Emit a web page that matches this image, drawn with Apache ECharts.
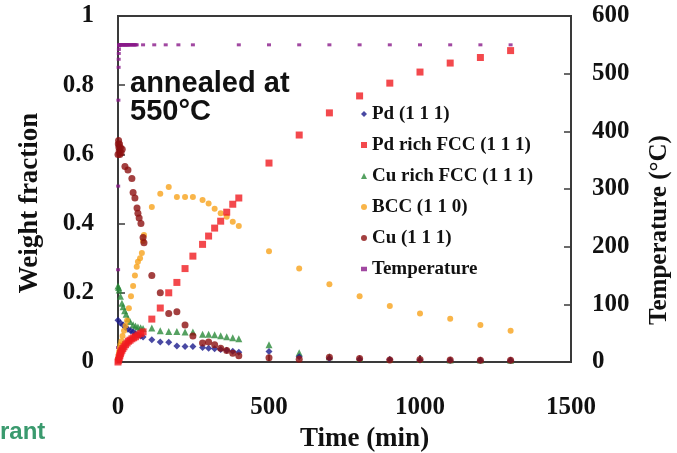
<!DOCTYPE html>
<html>
<head>
<meta charset="utf-8">
<script src="https://cdn.jsdelivr.net/npm/echarts@6/dist/echarts.min.js"></script>
<style>
  html, body { margin: 0; padding: 0; background: #ffffff; }
  #chart { width: 677px; height: 453px; }
</style>
</head>
<body>
<div id="chart"></div>
<script>
// Phase weight fractions during annealing at 550 °C, [time (min), weight fraction]
const pd111 = [
  [0, 0.121], [8, 0.113], [17, 0.107], [25, 0.100], [33, 0.095], [42, 0.090], [50, 0.087],
  [58, 0.082], [66, 0.078], [75, 0.075], [83, 0.072], [112, 0.064], [140, 0.058], [168, 0.057],
  [195, 0.046], [222, 0.045], [248, 0.045], [280, 0.042], [300, 0.040], [320, 0.038], [340, 0.036],
  [360, 0.034], [380, 0.031], [400, 0.028], [500, 0.030], [600, 0.015], [700, 0.010], [800, 0.008],
  [900, 0.007], [1000, 0.006], [1100, 0.005], [1200, 0.005], [1300, 0.005]
];
const pdRichFcc = [
  [0, 0.000], [2, 0.005], [4, 0.012], [6, 0.018], [8, 0.024], [10, 0.029], [13, 0.034], [16, 0.039],
  [20, 0.044], [25, 0.050], [30, 0.055], [35, 0.060], [40, 0.063], [46, 0.067], [52, 0.070],
  [58, 0.073], [66, 0.078], [75, 0.082], [83, 0.087], [112, 0.124], [140, 0.156], [168, 0.200],
  [195, 0.230], [222, 0.270], [248, 0.306], [280, 0.340], [300, 0.364], [320, 0.387], [340, 0.407],
  [360, 0.433], [380, 0.456], [400, 0.474], [500, 0.575], [600, 0.656], [700, 0.720], [800, 0.769],
  [900, 0.806], [1000, 0.838], [1100, 0.864], [1200, 0.880], [1300, 0.900]
];
const cuRichFcc = [
  [0, 0.220], [2, 0.215], [4, 0.208], [8, 0.190], [13, 0.170], [17, 0.160], [22, 0.148], [27, 0.138],
  [33, 0.125], [40, 0.117], [50, 0.108], [58, 0.104], [66, 0.101], [75, 0.099], [83, 0.097],
  [112, 0.098], [140, 0.090], [168, 0.088], [195, 0.088], [222, 0.087], [248, 0.087], [280, 0.080],
  [300, 0.080], [320, 0.079], [340, 0.076], [360, 0.073], [380, 0.070], [400, 0.067], [500, 0.050],
  [600, 0.027], [700, 0.015], [800, 0.010], [900, 0.008], [1000, 0.007], [1100, 0.006],
  [1200, 0.006], [1300, 0.005]
];
const bcc110 = [
  [0, 0.010], [2, 0.020], [4, 0.030], [6, 0.040], [8, 0.050], [11, 0.060], [15, 0.075], [20, 0.090],
  [25, 0.105], [30, 0.120], [36, 0.155], [43, 0.190], [50, 0.220], [56, 0.250], [62, 0.275],
  [66, 0.290], [73, 0.300], [79, 0.315], [83, 0.350], [86, 0.367], [112, 0.448], [140, 0.486],
  [168, 0.506], [195, 0.477], [222, 0.477], [248, 0.477], [280, 0.468], [300, 0.458], [320, 0.443],
  [340, 0.430], [360, 0.420], [380, 0.405], [400, 0.393], [500, 0.320], [600, 0.270], [700, 0.225],
  [800, 0.190], [900, 0.162], [1000, 0.140], [1100, 0.125], [1200, 0.107], [1300, 0.090]
];
const cu111 = [
  [0, 0.600], [1, 0.630], [2, 0.640], [3, 0.620], [4, 0.610], [5, 0.630], [6, 0.600], [8, 0.620],
  [10, 0.605], [14, 0.615], [23, 0.565], [33, 0.555], [46, 0.530], [50, 0.490], [56, 0.474],
  [63, 0.445], [66, 0.430], [70, 0.416], [76, 0.400], [83, 0.360], [86, 0.345], [112, 0.250],
  [140, 0.200], [168, 0.140], [195, 0.145], [222, 0.107], [248, 0.075], [280, 0.055], [300, 0.058],
  [320, 0.050], [340, 0.040], [360, 0.033], [380, 0.025], [400, 0.018], [500, 0.012], [600, 0.008],
  [700, 0.014], [800, 0.010], [900, 0.006], [1000, 0.007], [1100, 0.006], [1200, 0.005], [1300, 0.005]
];
// Furnace temperature, [time (min), °C]
const temperature = [
  [0, 25], [0.3, 160], [0.6, 305], [1, 373], [1.3, 454], [2, 511], [2.3, 525], [2.6, 535], [3, 542],
  [3.5, 548], [4, 550], [5, 550], [7, 550], [9, 550], [11, 550], [13, 550], [15, 550], [17, 550],
  [19, 550], [21, 550], [23, 550], [25, 550], [27, 550], [29, 550], [31, 550], [33, 550], [35, 550],
  [38, 550], [41, 550], [44, 550], [47, 550], [50, 550], [53, 550], [56, 550], [59, 550], [62, 550],
  [83, 550], [120, 550], [158, 550], [200, 550], [248, 550], [400, 550], [500, 550], [600, 550],
  [700, 550], [800, 550], [900, 550], [1000, 550], [1100, 550], [1200, 550], [1300, 550]
];

const seriesNames = ['Pd (1 1 1)', 'Pd rich FCC (1 1 1)', 'Cu rich FCC (1 1 1)', 'BCC (1 1 0)', 'Cu (1 1 1)', 'Temperature'];
const seriesColors = ['#1c1c8c', '#f01c20', '#2a8a3a', '#f7a21c', '#8c1010', '#8a1a8a'];
const legendIcons = ['diamond', 'rect', 'triangle', 'circle', 'circle', 'path://M0,0H4V3H0Z'];

const serif = 'Liberation Serif';
const axisColor = '#3a3a3a';

const chart = echarts.init(document.getElementById('chart'), null, { renderer: 'canvas' });

const axisCommon = {
  axisLine: { show: true, lineStyle: { color: axisColor, width: 2 } },
  axisTick: { show: true, inside: true, length: 7, lineStyle: { color: axisColor, width: 1.5 } },
  splitLine: { show: false },
  axisLabel: { fontFamily: serif, fontWeight: 'bold', fontSize: 25, color: '#111', formatter: v => String(v) },
  nameTextStyle: { fontFamily: serif, fontWeight: 'bold', fontSize: 27, color: '#111' }
};

chart.setOption({
  animation: false,
  backgroundColor: '#ffffff',
  grid: {
    left: 118, right: 106, top: 16, bottom: 91,
    outerBoundsMode: 'none', containLabel: false,
    show: true, borderColor: axisColor, borderWidth: 2, backgroundColor: 'transparent'
  },
  xAxis: Object.assign({}, axisCommon, {
    type: 'value', min: 0, max: 1500, interval: 500,
    name: 'Time (min)', nameLocation: 'middle', nameGap: 64,
    nameTextStyle: Object.assign({}, axisCommon.nameTextStyle, { padding: [0, 0, 0, 40] }),
    axisLabel: Object.assign({}, axisCommon.axisLabel, { margin: 33 })
  }),
  yAxis: [
    Object.assign({}, axisCommon, {
      type: 'value', min: 0, max: 1, interval: 0.2, position: 'left',
      name: 'Weight fraction', nameLocation: 'middle', nameGap: 74, nameRotate: 90,
      nameTextStyle: Object.assign({}, axisCommon.nameTextStyle, { padding: [0, 28, 0, 0] }),
      axisLabel: Object.assign({}, axisCommon.axisLabel, { margin: 24 })
    }),
    Object.assign({}, axisCommon, {
      type: 'value', min: 0, max: 600, interval: 100, position: 'right',
      name: 'Temperature (°C)', nameLocation: 'middle', nameGap: 76, nameRotate: 90,
      nameTextStyle: Object.assign({}, axisCommon.nameTextStyle, { fontSize: 25, padding: [0, 82, 0, 0] }),
      axisLabel: Object.assign({}, axisCommon.axisLabel, { margin: 21 })
    })
  ],
  legend: {
    orient: 'vertical',
    left: 356, top: 99,
    itemWidth: 6, itemHeight: 6, itemGap: 11,
    textStyle: { fontFamily: serif, fontWeight: 'bold', fontSize: 19, lineHeight: 20, color: '#111' },
    data: seriesNames.map((n, i) => ({ name: n, icon: legendIcons[i] })),
    selectedMode: false
  },
  graphic: [
    {
      type: 'text', left: 130, top: 69, z: 10,
      style: {
        text: 'annealed at\n550°C',
        font: 'bold 29px "Liberation Sans"', lineHeight: 28, fill: '#111'
      }
    },
    {
      type: 'text', left: 0, top: 420, z: 10,
      style: { text: 'rant', font: 'bold 24px "Liberation Sans"', fill: '#3a9a6e' }
    }
  ],
  series: [
    { name: seriesNames[0], type: 'scatter', data: pd111, symbol: 'diamond', symbolSize: 7, z: 3,
      itemStyle: { color: seriesColors[0] } },
    { name: seriesNames[1], type: 'scatter', data: pdRichFcc, symbol: 'rect', symbolSize: 7, z: 5,
      itemStyle: { color: seriesColors[1] } },
    { name: seriesNames[2], type: 'scatter', data: cuRichFcc, symbol: 'triangle', symbolSize: 7, z: 2,
      itemStyle: { color: seriesColors[2] } },
    { name: seriesNames[3], type: 'scatter', data: bcc110, symbol: 'circle', symbolSize: 6, z: 4,
      itemStyle: { color: seriesColors[3] } },
    { name: seriesNames[4], type: 'scatter', data: cu111, symbol: 'circle', symbolSize: 7, z: 4,
      itemStyle: { color: seriesColors[4] } },
    { name: seriesNames[5], type: 'scatter', data: temperature, yAxisIndex: 1, symbol: 'rect', symbolSize: [4, 3], z: 2,
      itemStyle: { color: seriesColors[5] } }
  ]
});
</script>
</body>
</html>
